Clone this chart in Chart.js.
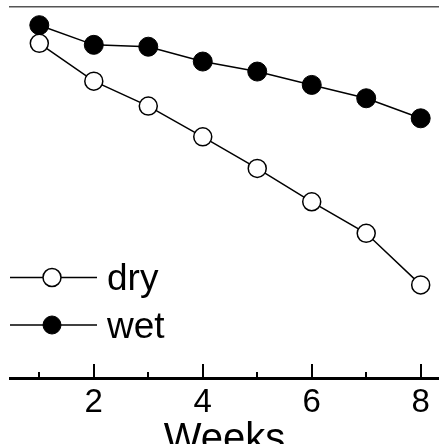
<!DOCTYPE html>
<html>
<head>
<meta charset="utf-8">
<script src="https://cdn.jsdelivr.net/npm/chart.js@4/dist/chart.umd.min.js"></script>
<style>
  html, body { margin: 0; padding: 0; background: #fff; overflow: hidden; }
  #wrap { width: 439px; height: 444px; overflow: hidden; }
</style>
</head>
<body>
<div id="wrap">
  <canvas id="line-chart" width="439" height="468"></canvas>
</div>
<script>
// data
let weeks = [1, 2, 3, 4, 5, 6, 7, 8];
let dryValues = [90.2, 80.0, 73.3, 65.0, 56.5, 47.5, 39.0, 25.1];
let wetValues = [95.1, 89.8, 89.3, 85.3, 82.6, 79.0, 75.4, 70.0];
let tickLabels = [2, 4, 6, 8];
let minorTicks = [1, 3, 5, 7];

const fontName = "'Liberation Sans', Arial, sans-serif";

// ticks on the bottom axis point up into the plot
const innerTicks = {
  id: 'innerTicks',
  afterDraw: (chart) => {
    const ctx = chart.ctx;
    const xScale = chart.scales.x;
    const bottom = chart.chartArea.bottom;
    ctx.save();
    ctx.strokeStyle = '#000';
    ctx.lineWidth = 2;
    weeks.forEach((w) => {
      let len = minorTicks.indexOf(w) >= 0 ? 6 : 14;
      let px = Math.round(xScale.getPixelForValue(w));
      ctx.beginPath();
      ctx.moveTo(px, bottom);
      ctx.lineTo(px, bottom - len);
      ctx.stroke();
    });
    ctx.restore();
  }
};

// legend with a line through the marker, bottom left of the plot
const lineLegend = {
  id: 'lineLegend',
  afterDraw: (chart) => {
    const ctx = chart.ctx;
    const left = chart.chartArea.left;
    const rows = [277.5, 325];
    ctx.save();
    chart.data.datasets.forEach((ds, i) => {
      let y = rows[i];
      ctx.strokeStyle = '#000';
      ctx.lineWidth = 1.5;
      ctx.beginPath();
      ctx.moveTo(left, y);
      ctx.lineTo(left + 87, y);
      ctx.stroke();
      ctx.beginPath();
      ctx.arc(left + 42, y, 9, 0, Math.PI * 2);
      ctx.fillStyle = ds.pointBackgroundColor;
      ctx.fill();
      ctx.lineWidth = ds.pointBorderWidth;
      ctx.stroke();
      ctx.fillStyle = '#000';
      ctx.font = '37px ' + fontName;
      ctx.textBaseline = 'alphabetic';
      ctx.fillText(ds.label, left + 97, y + 12.5);
    });
    ctx.restore();
  }
};

new Chart(document.getElementById('line-chart'), {
  type: 'line',
  data: {
    labels: weeks,
    datasets: [
      {
        label: 'dry',
        data: weeks.map((w, i) => ({ x: w, y: dryValues[i] })),
        borderColor: '#000',
        borderWidth: 1.5,
        pointRadius: 9,
        pointBackgroundColor: '#fff',
        pointBorderColor: '#000',
        pointBorderWidth: 1.5,
        tension: 0,
        clip: false
      },
      {
        label: 'wet',
        data: weeks.map((w, i) => ({ x: w, y: wetValues[i] })),
        borderColor: '#000',
        borderWidth: 1.5,
        pointRadius: 9.5,
        pointBackgroundColor: '#000',
        pointBorderColor: '#000',
        pointBorderWidth: 1,
        tension: 0,
        clip: false
      }
    ]
  },
  options: {
    responsive: false,
    animation: false,
    layout: { autoPadding: false, padding: { left: 10, right: 0, top: 7, bottom: 0 } },
    plugins: {
      legend: { display: false },
      tooltip: { enabled: false }
    },
    scales: {
      x: {
        type: 'linear',
        position: 'bottom',
        min: 0.462,
        max: 8.336,
        afterBuildTicks: (axis) => {
          axis.ticks = tickLabels.map((v) => ({ value: v }));
        },
        afterFit: (axis) => {
          axis.height = 90;
          axis.paddingLeft = 0;
          axis.paddingRight = 0;
        },
        grid: { display: false, drawTicks: false },
        border: { display: true, color: '#000', width: 3 },
        ticks: {
          color: '#000',
          padding: 5,
          maxRotation: 0,
          font: { family: fontName, size: 33 }
        },
        title: {
          display: true,
          text: 'Weeks',
          color: '#000',
          padding: { top: 2, bottom: 4 },
          font: { family: fontName, size: 40 }
        }
      },
      xTop: {
        type: 'linear',
        position: 'top',
        min: 0.462,
        max: 8.336,
        afterFit: (axis) => {
          axis.height = 0;
          axis.paddingLeft = 0;
          axis.paddingRight = 0;
        },
        grid: { display: false, drawTicks: false },
        border: { display: true, color: '#555', width: 1.5 },
        ticks: { display: false }
      },
      y: {
        display: false,
        min: 0,
        max: 100
      }
    }
  },
  plugins: [innerTicks, lineLegend]
});
</script>
</body>
</html>
